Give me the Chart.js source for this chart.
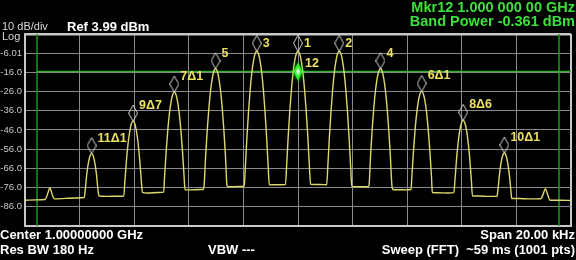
<!DOCTYPE html>
<html>
<head>
<meta charset="utf-8">
<script src="https://cdn.jsdelivr.net/npm/chart.js@4.4.1/dist/chart.umd.min.js"></script>
<style>
    body { margin: 0; background: #000; overflow: hidden; }
    #wrap { position: relative; width: 576px; height: 260px; background: #000; }
    #wrap canvas { position: absolute; left: 0; top: 0; }
    .t { position: absolute; white-space: pre; line-height: 1; font-family: "Liberation Sans", Arial, sans-serif; }
    .hdr { color: #d8d8d8; font-size: 11px; }
    .ref { color: #fff; font-size: 13px; font-weight: bold; }
    .grn { color: #3be03b; font-size: 14.5px; font-weight: bold; right: 1px; }
    .ftr { color: #fff; font-size: 13px; font-weight: bold; }
    .mk { color: #ece060; font-size: 12.5px; font-weight: bold; }
</style>
</head>
<body>
<div id="wrap">
    <canvas id="sa" width="576" height="260"></canvas>
    <div class="t hdr" style="left:2px; top:21px;">10 dB/div</div>
    <div class="t hdr" style="left:2px; top:31px;">Log</div>
    <div class="t ref" style="left:67px; top:20px;">Ref 3.99 dBm</div>
    <div class="t grn" style="top:0px;">Mkr12 1.000 000 00 GHz</div>
    <div class="t grn" style="top:14px;">Band Power -0.361 dBm</div>
    <div class="t ftr" style="left:0px; top:228px;">Center 1.00000000 GHz</div>
    <div class="t ftr" style="right:1px; top:228px;">Span 20.00 kHz</div>
    <div class="t ftr" style="left:0px; top:243px;">Res BW 180 Hz</div>
    <div class="t ftr" style="left:208px; top:243px;">VBW ---</div>
    <div class="t ftr" style="right:1px; top:243px;">Sweep (FFT)  ~59 ms (1001 pts)</div>
</div>
<script>
// trace (offset from 1 GHz in kHz / dBm)
const traceFreqs = [
    -10.0, -9.6, -9.26, -9.2, -9.15, -9.09, -9.03, -8.98, -8.92, -8.5, -8.1,
    -7.83, -7.80, -7.74, -7.68, -7.62, -7.56, -7.50, -7.44, -7.38, -7.32, -7.29,
    -7.0, -6.6,
    -6.38, -6.34, -6.28, -6.22, -6.16, -6.10, -6.04, -5.98, -5.92, -5.86, -5.80, -5.74, -5.70,
    -5.5, -5.1,
    -4.92, -4.89, -4.83, -4.77, -4.71, -4.65, -4.59, -4.53, -4.47, -4.41, -4.35, -4.29, -4.23, -4.17, -4.14,
    -4.0, -3.6,
    -3.48, -3.44, -3.38, -3.32, -3.26, -3.20, -3.14, -3.08, -3.02, -2.96, -2.90, -2.84, -2.78, -2.72, -2.66, -2.60, -2.56,
    -2.1,
    -1.97, -1.93, -1.87, -1.81, -1.75, -1.69, -1.63, -1.57, -1.51, -1.45, -1.39, -1.33, -1.27, -1.21, -1.15, -1.09, -1.05,
    -0.8,
    -0.46, -0.42, -0.36, -0.30, -0.24, -0.18, -0.12, -0.06, 0, 0.06, 0.12, 0.18, 0.24, 0.30, 0.36, 0.42, 0.46,
    0.8,
    1.05, 1.09, 1.15, 1.21, 1.27, 1.33, 1.39, 1.45, 1.51, 1.57, 1.63, 1.69, 1.75, 1.81, 1.87, 1.93, 1.97,
    2.1,
    2.56, 2.60, 2.66, 2.72, 2.78, 2.84, 2.90, 2.96, 3.02, 3.08, 3.14, 3.20, 3.26, 3.32, 3.38, 3.44, 3.48,
    3.6, 4.0,
    4.14, 4.17, 4.23, 4.29, 4.35, 4.41, 4.47, 4.53, 4.59, 4.65, 4.71, 4.77, 4.83, 4.89, 4.92,
    5.1, 5.5,
    5.71, 5.75, 5.81, 5.87, 5.93, 5.99, 6.05, 6.11, 6.17, 6.23, 6.29, 6.35, 6.39,
    6.6, 7.0,
    7.29, 7.32, 7.38, 7.44, 7.50, 7.56, 7.62, 7.68, 7.74, 7.80, 7.83,
    8.1, 8.5,
    8.89, 8.95, 9.0, 9.06, 9.12, 9.17, 9.23, 9.6, 10.0
];
const traceLevels = [
    -82.6, -82.4, -82.2, -80.5, -78.3, -76.1, -78.3, -80.5, -81.9, -81.6, -81.4,
    -81.2, -78.1, -69.4, -63.3, -59.5, -58.3, -59.5, -63.3, -69.4, -78.1, -80.4,
    -80.6, -80.5,
    -80.4, -72.4, -61.2, -52.5, -46.4, -42.6, -41.4, -42.6, -46.4, -52.5, -61.2, -72.4, -78.5,
    -78.8, -78.6,
    -78.4, -70.9, -57.3, -46.1, -37.4, -31.3, -27.5, -26.3, -27.5, -31.3, -37.4, -46.1, -57.3, -70.9, -77.1,
    -77.2, -77.0,
    -77.0, -75.0, -58.7, -45.1, -33.9, -25.2, -19.1, -15.3, -14.1, -15.3, -19.1, -25.2, -33.9, -45.1, -58.7, -75.0, -75.6,
    -75.4,
    -75.3, -65.6, -49.6, -36.0, -24.8, -16.1, -10.0, -6.2, -5.0, -6.2, -10.0, -16.1, -24.8, -36.0, -49.6, -65.6, -74.6,
    -74.5,
    -74.4, -65.6, -49.6, -36.0, -24.8, -16.1, -10.0, -6.2, -5.0, -6.2, -10.0, -16.1, -24.8, -36.0, -49.6, -65.6, -74.3,
    -74.4,
    -74.5, -65.6, -49.6, -36.0, -24.8, -16.1, -10.0, -6.2, -5.0, -6.2, -10.0, -16.1, -24.8, -36.0, -49.6, -65.6, -75.4,
    -75.5,
    -75.6, -75.0, -58.7, -45.1, -33.9, -25.2, -19.1, -15.3, -14.1, -15.3, -19.1, -25.2, -33.9, -45.1, -58.7, -75.0, -77.0,
    -77.1, -77.2,
    -77.0, -70.5, -56.9, -45.7, -37.0, -30.9, -27.1, -25.9, -27.1, -30.9, -37.0, -45.7, -56.9, -70.5, -78.6,
    -78.7, -78.8,
    -78.6, -72.0, -60.8, -52.1, -46.0, -42.2, -41.0, -42.2, -46.0, -52.1, -60.8, -72.0, -80.4,
    -80.4, -80.6,
    -80.5, -77.8, -69.1, -63.0, -59.2, -58.0, -59.2, -63.0, -69.1, -77.8, -81.7,
    -81.7, -81.9,
    -81.8, -80.6, -78.6, -76.6, -78.6, -80.7, -82.6, -82.6, -82.7
];

// markers
const markerNames = ['11\u03941', '9\u03947', '7\u03941', '5', '3', '1', '2', '4', '6\u03941', '8\u03946', '10\u03941'];
const markerFreqs = [-7.56, -6.04, -4.53, -3.02, -1.51, 0, 1.51, 3.02, 4.53, 6.05, 7.56];
const markerLevels = [-58.3, -41.4, -26.3, -14.1, -5.0, -5.0, -5.0, -14.1, -25.9, -41.0, -58.0];

// band power marker, display line and band edges
const bandMarkerName = '12';
const bandMarkerFreq = 0;
const bandMarkerLevel = -15.6;
const displayLine = -15.6;
const bandEdges = [-9.56, 9.56];

// axes
const refLevel = 3.99;
const bottomLevel = -96.01;
const yTickLabels = ['-6.01', '-16.0', '-26.0', '-36.0', '-46.0', '-56.0', '-66.0', '-76.0', '-86.0'];

Chart.defaults.font.family = '"Liberation Sans", Arial, sans-serif';

// diamond marker, bottom tip at the point
function diamondIcon() {
    const c = document.createElement('canvas');
    c.width = 10; c.height = 34;
    const g = c.getContext('2d');
    g.strokeStyle = '#d4d4d4';
    g.lineWidth = 1;
    g.beginPath();
    g.moveTo(5, 1); g.lineTo(9.5, 9); g.lineTo(5, 17); g.lineTo(0.5, 9); g.closePath();
    g.stroke();
    return c;
}

function greenIcon() {
    const c = document.createElement('canvas');
    c.width = 16; c.height = 24;
    const g = c.getContext('2d');
    g.shadowColor = '#00ff00';
    g.shadowBlur = 5;
    g.fillStyle = '#30f030';
    g.beginPath();
    g.moveTo(8, 3); g.lineTo(12.5, 12); g.lineTo(8, 21); g.lineTo(3.5, 12); g.closePath();
    g.fill();
    g.shadowBlur = 0;
    g.fillStyle = '#d8ffd8';
    g.beginPath();
    g.moveTo(8, 8); g.lineTo(10, 12); g.lineTo(8, 16); g.lineTo(6, 12); g.closePath();
    g.fill();
    return c;
}

const trace = traceFreqs.map((f, i) => ({ x: f, y: traceLevels[i] }));
const markers = markerFreqs.map((f, i) => ({ x: f, y: markerLevels[i] }));

const edgeSets = bandEdges.map(f => ({
    data: [{ x: f, y: refLevel }, { x: f, y: bottomLevel }],
    borderColor: '#1c9a1c',
    borderWidth: 1.5,
    pointRadius: 0,
    order: 4
}));

const chart = new Chart(document.getElementById('sa'), {
    type: 'line',
    data: {
        datasets: [
            {
                data: trace,
                borderColor: 'rgb(222,216,108)',
                borderWidth: 1.4,
                pointRadius: 0,
                cubicInterpolationMode: 'monotone',
                order: 2
            },
            {
                data: [{ x: bandEdges[0], y: displayLine }, { x: 10, y: displayLine }],
                borderColor: '#2fb02f',
                borderWidth: 1.5,
                pointRadius: 0,
                order: 3
            },
            ...edgeSets,
            {
                data: markers,
                showLine: false,
                pointStyle: diamondIcon(),
                order: 1
            },
            {
                data: [{ x: bandMarkerFreq, y: bandMarkerLevel }],
                showLine: false,
                pointStyle: greenIcon(),
                order: 0
            }
        ]
    },
    options: {
        responsive: false,
        animation: false,
        events: [],
        layout: { padding: { top: 34, bottom: 34, left: 0, right: 1 } },
        plugins: { legend: { display: false }, tooltip: { enabled: false } },
        scales: {
            x: {
                type: 'linear',
                min: -10,
                max: 10,
                ticks: { display: false, stepSize: 2 },
                grid: {
                    drawTicks: false,
                    color: ctx => ctx.index === 10 ? '#c8c8c8' : '#8a8a8a',
                    lineWidth: ctx => ctx.index === 10 ? 2 : 1
                },
                border: { color: '#c8c8c8', width: 2 },
                afterFit: scale => { scale.height = 0; }
            },
            y: {
                min: bottomLevel,
                max: refLevel,
                ticks: {
                    stepSize: 10,
                    padding: 3,
                    color: '#c8c8c8',
                    font: { size: 9.5 },
                    callback: (v, i) => (i === 0 || i === 10) ? '' : yTickLabels[9 - i]
                },
                grid: {
                    drawTicks: false,
                    color: ctx => ctx.index === 10 ? '#c8c8c8' : '#8a8a8a',
                    lineWidth: ctx => ctx.index === 10 ? 2.5 : 1
                },
                border: { color: '#c8c8c8', width: 2 },
                afterFit: scale => { scale.width = 25; }
            }
        }
    }
});

// marker labels as text next to the diamonds
const wrap = document.getElementById('wrap');
function addLabel(text, x, yMid) {
    const d = document.createElement('div');
    d.className = 't mk';
    d.textContent = text;
    d.style.left = x + 'px';
    d.style.top = (yMid - 6) + 'px';
    wrap.appendChild(d);
}
markerNames.forEach((name, i) => {
    const px = chart.scales.x.getPixelForValue(markerFreqs[i]);
    const py = chart.scales.y.getPixelForValue(markerLevels[i]);
    addLabel(name, px + 6, Math.max(py - 16, 43));
});
addLabel(bandMarkerName,
    chart.scales.x.getPixelForValue(bandMarkerFreq) + 7,
    chart.scales.y.getPixelForValue(bandMarkerLevel) - 9);
</script>
</body>
</html>
